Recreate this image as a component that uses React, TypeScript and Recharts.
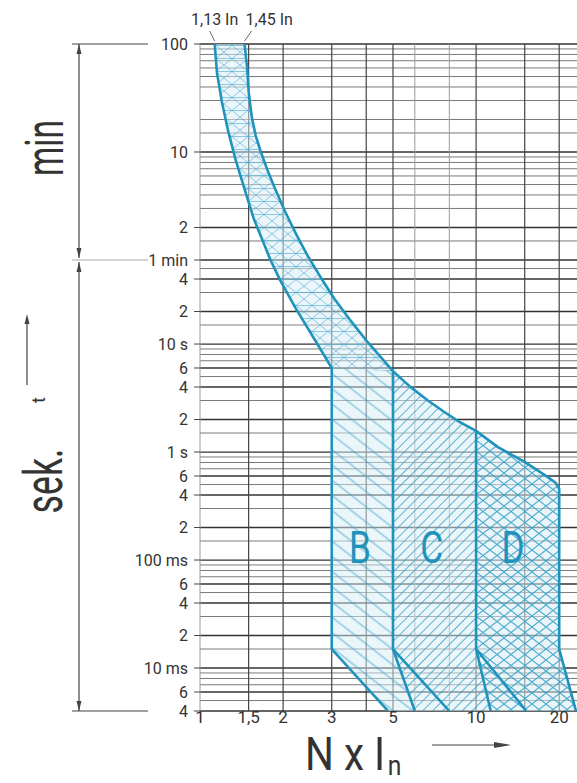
import React from "react";
import { ComposedChart, XAxis, YAxis, Scatter, ReferenceLine, ReferenceDot } from "recharts";

const FONT = "Roboto, 'DejaVu Sans', sans-serif";
const TEAL = "#1f93bb";
const INK = "#333";

// multiples of the rated current (log axis)
const xTicks = [1, 1.5, 2, 3, 5, 10, 20];
const xGridMajor = [1.5, 2, 3, 4, 5, 10, 15, 20];
const xGridMinor = [1, 6, 8];

// trip time in seconds, labelled like the printed sheet
const yTicks = [6000, 600, 120, 60, 40, 20, 10, 6, 4, 2, 1, 0.6, 0.4, 0.2, 0.1, 0.06, 0.04, 0.02, 0.01, 0.006, 0.004];
const yTickLabels = ["100", "10", "2", "1 min", "4", "2", "10 s", "6", "4", "2", "1 s", "6", "4", "2", "100 ms", "6", "4", "2", "10 ms", "6", "4"];

// grid lines: minutes part (1..100 min) and seconds part (4 ms..50 s)
const gridMinutes = [1, 1.5, 2, 3, 4, 5, 6, 7, 8, 9, 10, 15, 20, 30, 40, 50, 60, 70, 80, 90, 100];
const gridSeconds = [
  0.004, 0.005, 0.006, 0.007, 0.008, 0.009, 0.01, 0.015, 0.02, 0.03, 0.04, 0.05, 0.06, 0.07, 0.08, 0.09,
  0.1, 0.15, 0.2, 0.3, 0.4, 0.5, 0.6, 0.7, 0.8, 0.9, 1, 1.5, 2, 3, 4, 5, 6, 7, 8, 9, 10, 15, 20, 30, 40, 50,
];

// [I/In, t in s]
const lowerThermal: [number, number][] = [
  [1.13, 6000], [1.152, 3240], [1.2, 1750], [1.264, 940], [1.346, 508], [1.451, 271], [1.565, 145],
  [1.73, 77], [1.8, 60], [1.948, 39.3], [2.219, 21.5], [2.661, 10], [3, 6],
];
const upperThermal: [number, number][] = [
  [1.45, 6000], [1.482, 3590], [1.501, 2150], [1.539, 1284], [1.591, 851], [1.661, 600], [1.752, 412],
  [1.874, 271], [2.037, 167], [2.234, 103], [2.46, 65], [2.73, 41.8], [3.066, 26.3], [3.53, 16.2],
  [4.05, 10.4], [5, 5.6],
];
const upperC: [number, number][] = [[5, 5.6], [5.81, 3.97], [6.69, 3.0], [7.65, 2.36], [8.67, 1.91], [10, 1.57]];
const upperD: [number, number][] = [[10, 1.57], [12, 1.11], [15, 0.81], [18.3, 0.58], [19.4, 0.52], [20, 0.46]];

const zoneB: [number, number][] = [[3, 6], [3, 0.015], [4.8, 0.004], [6, 0.004], [5, 0.015], [5, 5.6]];
const zoneCBottom: [number, number][] = [[10, 0.015], [11.3, 0.004], [6, 0.004], [5, 0.015]];
const zoneDBottom: [number, number][] = [[20, 0.015], [23, 0.004], [11.3, 0.004], [10, 0.015]];

const lowerTail: [number, number][] = [[3, 0.015], [4.8, 0.004]];
const upperTail: [number, number][] = [[20, 0.015], [23, 0.004]];
const lineAt5: [number, number][] = [[5, 5.6], [5, 0.015], [6, 0.004]];
const diagC: [number, number][] = [[5, 0.015], [8, 0.004]];
const lineAt10: [number, number][] = [[10, 1.57], [10, 0.015], [11.3, 0.004]];
const diagD: [number, number][] = [[10, 0.015], [15.2, 0.004]];

const zoneLetters = ["B", "C", "D"];
const zoneLetterX = [3.8, 6.9, 13.6];
const zoneLetterT = 0.13;

const pts = (a: [number, number][]) => a.map(([x, t]) => ({ x, t }));

const bandZone = [...lowerThermal, ...[...upperThermal].reverse()];
const cZone = [...upperC, ...zoneCBottom];
const dZone = [...upperD, ...zoneDBottom];
const lowerOutline = [...lowerThermal, ...lowerTail];
const upperOutline = [...upperThermal, ...upperC.slice(1), ...upperD.slice(1), ...upperTail];

const allGrid = [...gridSeconds, ...gridMinutes.map((m) => m * 60)];
const yGridMajor = allGrid.filter((v) => yTicks.includes(v));
const yGridMinor = allGrid.filter((v) => !yTicks.includes(v));

const noDot = () => <g />;

function CurveTag(props: any) {
  const { viewBox, text, side } = props;
  const x = viewBox.x;
  const y = viewBox.y;
  const left = side === "left";
  return (
    <g>
      <text x={left ? x : x + 1} y={y - 19} textAnchor={left ? "middle" : "start"} fontSize={16} fill={INK} fontFamily={FONT}>
        {text}
      </text>
      <line x1={left ? x - 5 : x + 7} y1={y - 13} x2={x} y2={y - 3} stroke="#666" strokeWidth={1} />
    </g>
  );
}

function ZoneLetter(props: any) {
  const { viewBox, letter } = props;
  return (
    <text
      transform={`translate(${viewBox.x},${viewBox.y}) scale(0.8,1)`}
      textAnchor="middle"
      dominantBaseline="central"
      fontSize={44}
      fill={TEAL}
      fontFamily={FONT}
    >
      {letter}
    </text>
  );
}

const TOP = 44;
const BOTTOM = 711;
const MIN_Y = TOP + ((BOTTOM - TOP) * Math.log10(6000 / 60)) / Math.log10(6000 / 0.004);

function Arrow({ x, y, dir }: { x: number; y: number; dir: number }) {
  return <polygon points={`${x},${y} ${x - 2.5},${y + dir * 10} ${x + 2.5},${y + dir * 10}`} fill="#444" />;
}

export default function App() {
  return (
    <div style={{ position: "absolute", left: 0, top: 0, width: 577, height: 783, overflow: "hidden", background: "#fff" }}>
      <svg width={0} height={0} style={{ position: "absolute" }}>
        <defs>
          <pattern id="hatchBand" patternUnits="userSpaceOnUse" width={16} height={13}>
            <rect width={16} height={13} fill="#d8edf5" fillOpacity={0.5} />
            <path d="M0,0L16,13M0,13L16,0M0,6.5H16" stroke="#4eaccf" strokeWidth={0.9} strokeOpacity={0.7} />
          </pattern>
          <pattern id="hatchB" patternUnits="userSpaceOnUse" width={12} height={12} patternTransform="rotate(38)">
            <rect width={12} height={12} fill="#d8edf5" fillOpacity={0.5} />
            <line x1={0} y1={6} x2={12} y2={6} stroke="#3aa3c8" strokeWidth={1} strokeOpacity={0.8} />
          </pattern>
          <pattern id="hatchC" patternUnits="userSpaceOnUse" width={7} height={7} patternTransform="rotate(-45)">
            <rect width={7} height={7} fill="#d8edf5" fillOpacity={0.5} />
            <line x1={0} y1={3.5} x2={7} y2={3.5} stroke="#3aa3c8" strokeWidth={1} strokeOpacity={0.8} />
          </pattern>
          <pattern id="hatchD" patternUnits="userSpaceOnUse" width={14} height={11}>
            <rect width={14} height={11} fill="#d8edf5" fillOpacity={0.55} />
            <path d="M0,0L14,11M0,11L14,0" stroke="#2f9ec6" strokeWidth={1.1} strokeOpacity={0.85} strokeLinecap="square" />
          </pattern>
        </defs>
      </svg>

      <ComposedChart width={577} height={783} margin={{ top: TOP, right: 0, bottom: 42, left: 0 }}>
        <XAxis
          dataKey="x"
          type="number"
          scale="log"
          domain={[1, 23.2]}
          allowDataOverflow
          ticks={xTicks}
          interval={0}
          height={30}
          axisLine={false}
          tickLine={false}
          tickSize={0}
          tickMargin={0}
          tickFormatter={(v) => String(v).replace(".", ",")}
          tick={{ fontSize: 17, fill: INK, fontFamily: FONT }}
        />
        <YAxis
          dataKey="t"
          type="number"
          scale="log"
          domain={[0.004, 6000]}
          allowDataOverflow
          ticks={yTicks}
          interval={0}
          width={200}
          axisLine={false}
          tickSize={6}
          tickMargin={6}
          tickLine={{ stroke: "#444" }}
          tickFormatter={(v) => yTickLabels[yTicks.indexOf(v)] ?? ""}
          tick={{ fontSize: 16, fill: INK, fontFamily: FONT }}
        />

        <Scatter data={pts(bandZone)} line={{ fill: "url(#hatchBand)", stroke: "none" }} shape={noDot} isAnimationActive={false} legendType="none" />
        <Scatter data={pts(zoneB)} line={{ fill: "url(#hatchB)", stroke: "none" }} shape={noDot} isAnimationActive={false} legendType="none" />
        <Scatter data={pts(cZone)} line={{ fill: "url(#hatchC)", stroke: "none" }} shape={noDot} isAnimationActive={false} legendType="none" />
        <Scatter data={pts(dZone)} line={{ fill: "url(#hatchD)", stroke: "none" }} shape={noDot} isAnimationActive={false} legendType="none" />

        {yGridMinor.map((v) => (
          <ReferenceLine key={`ym${v}`} y={v} stroke="#7a7a7a" strokeWidth={1} ifOverflow="visible" />
        ))}
        {yGridMajor.map((v) => (
          <ReferenceLine key={`yM${v}`} y={v} stroke="#333" strokeWidth={1.3} ifOverflow="visible" />
        ))}
        {xGridMinor.map((v) => (
          <ReferenceLine key={`xm${v}`} x={v} stroke="#9a9a9a" strokeWidth={1} ifOverflow="visible" />
        ))}
        {xGridMajor.map((v) => (
          <ReferenceLine key={`xM${v}`} x={v} stroke="#444" strokeWidth={1.2} ifOverflow="visible" />
        ))}

        {[lowerOutline, upperOutline, lineAt5, diagC, lineAt10, diagD].map((seg, i) => (
          <Scatter
            key={`ol${i}`}
            data={pts(seg)}
            line={{ stroke: TEAL, strokeWidth: 2.6, fill: "none", strokeLinejoin: "round" }}
            shape={noDot}
            isAnimationActive={false}
            legendType="none"
          />
        ))}

        {zoneLetters.map((l, i) => (
          <ReferenceDot key={l} x={zoneLetterX[i]} y={zoneLetterT} r={0} fill="none" stroke="none" ifOverflow="visible" label={<ZoneLetter letter={l} />} />
        ))}
        <ReferenceDot x={lowerThermal[0][0]} y={lowerThermal[0][1]} r={0} fill="none" stroke="none" ifOverflow="visible" label={<CurveTag text="1,13 In" side="left" />} />
        <ReferenceDot x={upperThermal[0][0]} y={upperThermal[0][1]} r={0} fill="none" stroke="none" ifOverflow="visible" label={<CurveTag text="1,45 In" side="right" />} />
      </ComposedChart>

      <svg width={577} height={783} style={{ position: "absolute", left: 0, top: 0, pointerEvents: "none" }}>
        <g stroke="#444" strokeWidth={1.2}>
          <line x1={72} y1={TOP} x2={148} y2={TOP} />
          <line x1={72} y1={BOTTOM} x2={148} y2={BOTTOM} />
          <line x1={79} y1={TOP} x2={79} y2={MIN_Y - 2} />
          <line x1={79} y1={MIN_Y + 2} x2={79} y2={BOTTOM} />
          <line x1={27} y1={385} x2={27} y2={318} />
          <line x1={432} y1={745} x2={500} y2={745} />
        </g>
        <line x1={72} y1={MIN_Y} x2={148} y2={MIN_Y} stroke="#aaa" strokeWidth={1} />
        <Arrow x={79} y={TOP} dir={1} />
        <Arrow x={79} y={MIN_Y - 2} dir={-1} />
        <Arrow x={79} y={MIN_Y + 2} dir={1} />
        <Arrow x={79} y={BOTTOM} dir={-1} />
        <Arrow x={27} y={314} dir={1} />
        <polygon points="494,742 511,745 494,748" fill="#444" />

        <g fill={INK} fontFamily={FONT}>
          <text transform="translate(44,148) rotate(-90) scale(0.62,1)" textAnchor="middle" dominantBaseline="central" fontSize={54}>
            min
          </text>
          <text transform="translate(44,481) rotate(-90) scale(0.66,1)" textAnchor="middle" dominantBaseline="central" fontSize={54}>
            sek.
          </text>
          <text transform="translate(38,400) rotate(-90)" textAnchor="middle" dominantBaseline="central" fontSize={18}>
            t
          </text>
          <text transform="translate(305,770) scale(0.88,1)" fontSize={46}>
            N x I
            <tspan dx={3} dy={5} fontSize={28}>
              n
            </tspan>
          </text>
        </g>
      </svg>
    </div>
  );
}
